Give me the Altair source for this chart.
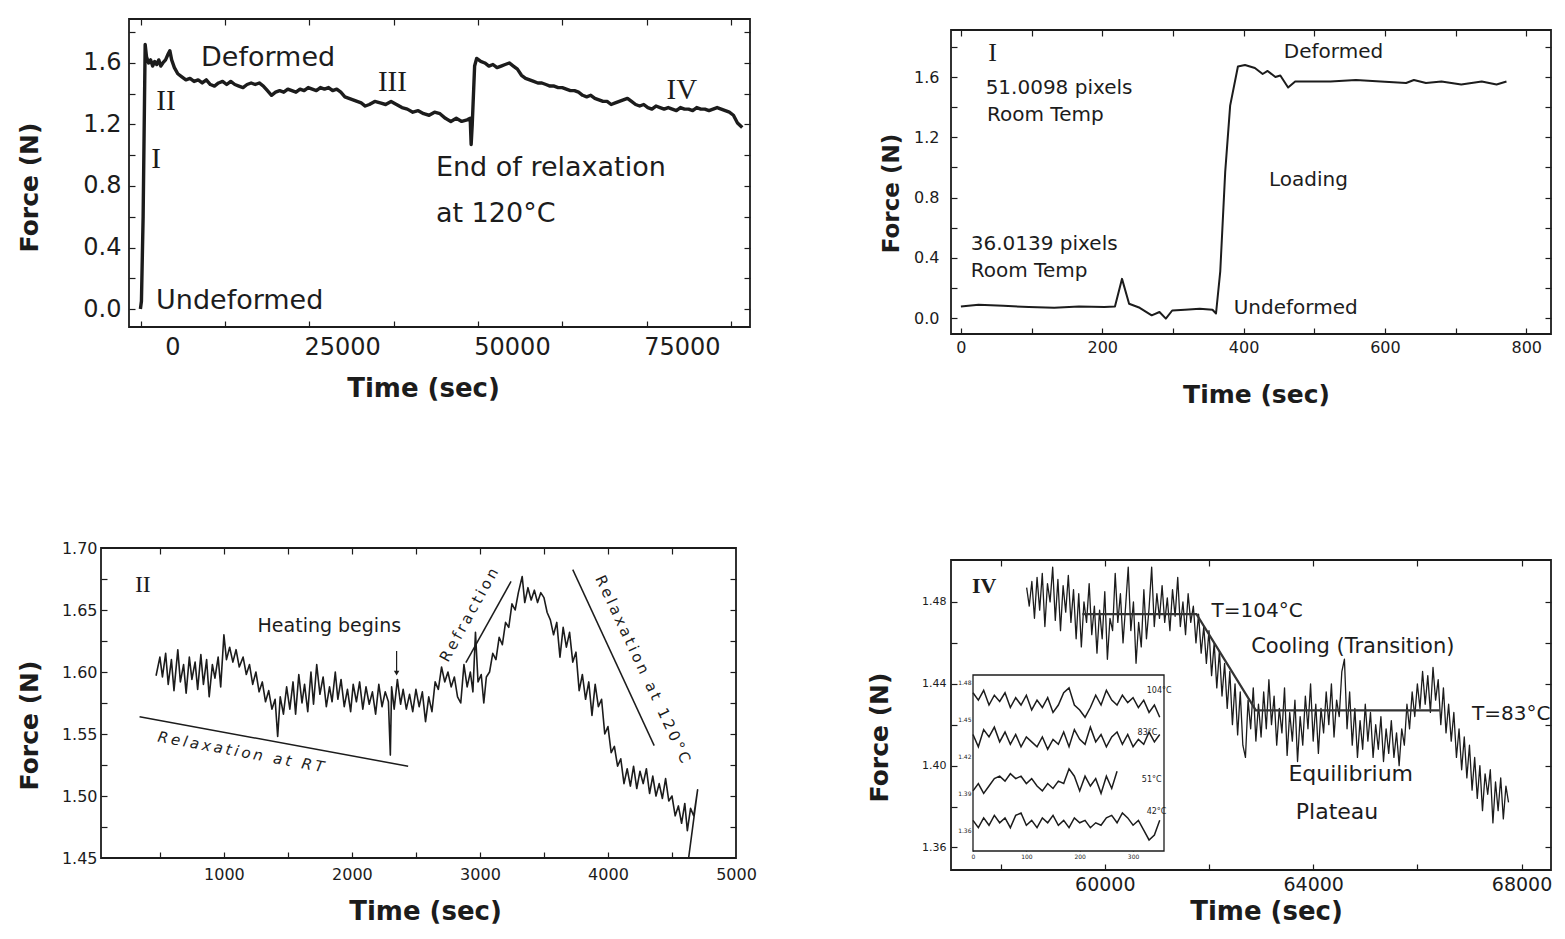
import altair as alt
import pandas as pd

FONT = "DejaVu Sans"
SERIF = "Liberation Serif"
INK = "#1c1c1c"

# ================= Panel 1 : whole experiment =================
p1_time = [
    -4700, -4550, -4300, -4000, -3800, -3500, -3200, -2900, -2600, -2300,
    -2000, -1700, -1400, -1000, -600, -370, -100, 300, 800, 1400,
    2000, 2600, 3200, 3800, 4400, 5000, 5600, 6200, 6800, 7400,
    8000, 8600, 9200, 9800, 10400, 11000, 11600, 12200, 12800, 13400,
    14000, 14600, 15200, 15800, 16400, 17000, 17600, 18200, 18800, 19400,
    20000, 20600, 21200, 21800, 22400, 23000, 23600, 24200, 24800, 25400,
    26000, 26600, 27200, 27800, 28400, 29000, 29800, 30600, 31400, 32200,
    33000, 33800, 34600, 35400, 36200, 37000, 37800, 38600, 39400, 40200,
    41000, 41800, 42600, 43400, 43850, 43990, 44150, 44500, 44800, 45400,
    46000, 46600, 47200, 47800, 48400, 49000, 49600, 50200, 50800, 51400,
    52000, 52600, 53200, 53800, 54400, 55000, 55600, 56200, 56800, 57400,
    58000, 58600, 59200, 59800, 60400, 61000, 61600, 62200, 62800, 63400,
    64000, 64600, 65200, 65800, 66400, 67000, 67600, 68200, 68800, 69400,
    70000, 70600, 71200, 71800, 72400, 73000, 73600, 74200, 74800, 75400,
    76000, 76600, 77200, 77800, 78400, 79000, 79600, 80200, 80800, 81400,
    82000, 82600, 83200, 83900]
p1_force = [
    0.00, 0.05, 0.60, 1.72, 1.64, 1.60, 1.62, 1.58, 1.61, 1.59,
    1.62, 1.58, 1.60, 1.62, 1.66, 1.68, 1.62, 1.57, 1.53, 1.51,
    1.49, 1.50, 1.48, 1.49, 1.47, 1.49, 1.46, 1.45, 1.47, 1.48,
    1.46, 1.48, 1.46, 1.45, 1.44, 1.46, 1.47, 1.46, 1.47, 1.45,
    1.42, 1.39, 1.41, 1.42, 1.41, 1.43, 1.42, 1.41, 1.43, 1.42,
    1.44, 1.43, 1.42, 1.44, 1.43, 1.44, 1.42, 1.43, 1.41, 1.38,
    1.37, 1.36, 1.35, 1.34, 1.32, 1.33, 1.35, 1.34, 1.33, 1.35,
    1.33, 1.31, 1.30, 1.28, 1.29, 1.27, 1.26, 1.28, 1.27, 1.24,
    1.22, 1.24, 1.22, 1.23, 1.24, 1.07, 1.20, 1.58, 1.63, 1.61,
    1.60, 1.58, 1.59, 1.57, 1.58, 1.59, 1.60, 1.58, 1.56, 1.52,
    1.50, 1.49, 1.48, 1.47, 1.47, 1.46, 1.45, 1.45, 1.44, 1.44,
    1.43, 1.42, 1.42, 1.41, 1.39, 1.38, 1.39, 1.37, 1.36, 1.35,
    1.35, 1.33, 1.34, 1.35, 1.36, 1.37, 1.35, 1.33, 1.32, 1.33,
    1.31, 1.30, 1.32, 1.31, 1.30, 1.31, 1.30, 1.29, 1.31, 1.30,
    1.30, 1.29, 1.31, 1.30, 1.30, 1.29, 1.30, 1.31, 1.30, 1.29,
    1.28, 1.26, 1.21, 1.18]
p1_xdomain = [-6380, 85040]
p1_ydomain = [-0.117, 1.886]
p1_xlabels = [0, 25000, 50000, 75000]
p1_ylabels = [0.0, 0.4, 0.8, 1.2, 1.6]
p1_xticks = [-4650, 7760, 20170, 32580, 44990, 57400, 69810, 82220]
p1_yticks = [0.0, 0.2, 0.4, 0.6, 0.8, 1.0, 1.2, 1.4, 1.6, 1.8]
p1_note_text = ["Deformed", "Undeformed", "End of relaxation", "at 120°C"]
p1_note_x = [4225, -2400, 38800, 38800]
p1_note_y = [1.632, 0.052, 0.917, 0.618]
p1_roman_text = ["I", "II", "III", "IV"]
p1_roman_x = [-2400, -930, 32400, 75000]
p1_roman_y = [0.976, 1.353, 1.477, 1.425]

# ================= Panel 2 : loading (I) =================
p2_time = [0, 25, 60, 96, 132, 167, 203, 218, 228, 238,
           253, 270, 281, 290, 299, 317, 338, 356, 361, 367,
           374, 381, 392, 402, 416, 427, 434, 445, 452, 463,
           473, 523, 559, 594, 630, 641, 658, 680, 708, 737,
           758, 772]
p2_force = [0.077, 0.088, 0.081, 0.073, 0.068, 0.077, 0.073, 0.077, 0.26, 0.095,
            0.068, 0.018, 0.04, -0.004, 0.05, 0.055, 0.062, 0.055, 0.03, 0.31,
            0.97, 1.41, 1.67, 1.68, 1.66, 1.62, 1.64, 1.60, 1.61, 1.53,
            1.57, 1.57, 1.58, 1.57, 1.56, 1.58, 1.56, 1.57, 1.55, 1.57,
            1.55, 1.57]
p2_xdomain = [-14, 835]
p2_ydomain = [-0.106, 1.912]
p2_xlabels = [0, 200, 400, 600, 800]
p2_ylabels = [0.0, 0.4, 0.8, 1.2, 1.6]
p2_xticks = [0, 100, 200, 300, 400, 500, 600, 700, 800]
p2_yticks = [0.0, 0.2, 0.4, 0.6, 0.8, 1.0, 1.2, 1.4, 1.6, 1.8]
p2_note_text = ["51.0098 pixels", "Room Temp", "36.0139 pixels", "Room Temp",
                "Deformed", "Loading", "Undeformed"]
p2_note_x = [35, 37, 14, 14, 457, 436, 386]
p2_note_y = [1.527, 1.348, 0.491, 0.312, 1.766, 0.916, 0.066]
p2_roman_text = ["I"]
p2_roman_x = [45]
p2_roman_y = [1.76]

# ================= Panel 3 : relaxation (II) =================
p3_time = [
    470, 500, 520, 545, 565, 590, 610, 640, 660, 685,
    705, 730, 750, 775, 795, 820, 840, 865, 885, 910,
    930, 955, 975, 1000, 1020, 1045, 1070, 1095, 1120, 1150,
    1175, 1200, 1225, 1250, 1275, 1300, 1325, 1350, 1375, 1400,
    1420, 1440, 1465, 1490, 1515, 1540, 1560, 1585, 1610, 1630,
    1655, 1680, 1700, 1725, 1750, 1775, 1800, 1825, 1845, 1870,
    1890, 1915, 1940, 1965, 1990, 2010, 2035, 2060, 2085, 2110,
    2135, 2160, 2185, 2210, 2235, 2260, 2285, 2300, 2310, 2330,
    2355, 2380, 2400, 2425, 2450, 2475, 2500, 2525, 2550, 2575,
    2600, 2625, 2650, 2675, 2700, 2725, 2750, 2775, 2800, 2825,
    2850, 2875, 2900, 2925, 2945, 2965, 2985, 3010, 3030, 3050,
    3075, 3100, 3125, 3150, 3175, 3200, 3225, 3250, 3275, 3300,
    3330, 3350, 3375, 3400, 3425, 3450, 3475, 3500, 3525, 3550,
    3575, 3600, 3625, 3650, 3675, 3700, 3725, 3750, 3775, 3800,
    3825, 3850, 3875, 3900, 3925, 3950, 3975, 4000, 4025, 4050,
    4075, 4100, 4125, 4150, 4175, 4200, 4225, 4250, 4275, 4300,
    4325, 4350, 4375, 4400, 4425, 4450, 4475, 4500, 4525, 4550,
    4575, 4600, 4620, 4645, 4670, 4700, 4630]
p3_force = [
    1.597, 1.612, 1.596, 1.615, 1.590, 1.610, 1.585, 1.618, 1.592, 1.606,
    1.583, 1.612, 1.594, 1.608, 1.586, 1.614, 1.590, 1.610, 1.580, 1.606,
    1.595, 1.612, 1.588, 1.630, 1.610, 1.620, 1.608, 1.618, 1.604, 1.612,
    1.598, 1.606, 1.590, 1.600, 1.584, 1.592, 1.576, 1.585, 1.570, 1.578,
    1.548, 1.580, 1.566, 1.588, 1.570, 1.592, 1.566, 1.598, 1.575, 1.590,
    1.568, 1.600, 1.574, 1.606, 1.582, 1.596, 1.572, 1.588, 1.576, 1.600,
    1.578, 1.594, 1.572, 1.586, 1.568, 1.590, 1.576, 1.592, 1.570, 1.588,
    1.574, 1.584, 1.566, 1.590, 1.572, 1.584, 1.576, 1.533, 1.588, 1.570,
    1.594, 1.574, 1.586, 1.570, 1.582, 1.568, 1.586, 1.572, 1.584, 1.560,
    1.580, 1.568, 1.592, 1.586, 1.604, 1.592, 1.600, 1.588, 1.596, 1.580,
    1.575, 1.606, 1.588, 1.600, 1.584, 1.632, 1.592, 1.598, 1.575, 1.596,
    1.600, 1.615, 1.610, 1.628, 1.622, 1.640, 1.636, 1.655, 1.650, 1.664,
    1.677, 1.656, 1.668, 1.658, 1.666, 1.656, 1.664, 1.660, 1.648, 1.642,
    1.630, 1.640, 1.612, 1.636, 1.620, 1.632, 1.608, 1.616, 1.585, 1.598,
    1.578, 1.592, 1.565, 1.590, 1.572, 1.578, 1.550, 1.556, 1.535, 1.540,
    1.524, 1.530, 1.510, 1.522, 1.508, 1.524, 1.506, 1.520, 1.510, 1.522,
    1.502, 1.516, 1.500, 1.510, 1.498, 1.514, 1.496, 1.500, 1.484, 1.492,
    1.478, 1.494, 1.472, 1.490, 1.484, 1.505, 1.450]
p3_xdomain = [40, 5000]
p3_ydomain = [1.45, 1.70]
p3_xlabels = [1000, 2000, 3000, 4000, 5000]
p3_ylabels = [1.45, 1.50, 1.55, 1.60, 1.65, 1.70]
p3_xticks = [500, 1000, 1500, 2000, 2500, 3000, 3500, 4000, 4500]
p3_yticks = [1.475, 1.500, 1.525, 1.550, 1.575, 1.600, 1.625, 1.650, 1.675]
p3_guide_x = [341, 2890, 3725]
p3_guide_y = [1.564, 1.6076, 1.6826]
p3_guide_x2 = [2439, 3243, 4361]
p3_guide_y2 = [1.524, 1.673, 1.5406]
p3_slant_text = ["Relaxation at RT", "Refraction", "Relaxation at 120°C"]
p3_slant_x = [1133, 2914, 4273]
p3_slant_y = [1.5355, 1.646, 1.6024]
p3_note_text = ["Heating begins"]
p3_note_x = [1263]
p3_note_y = [1.637]
p3_arrow_x = [2349]
p3_arrow_top = [1.617]
p3_arrow_tip = [1.599]
p3_roman_text = ["II"]
p3_roman_x = [367]
p3_roman_y = [1.670]

# ================= Panel 4 : cooling (IV) =================
p4_time = [
    58500, 58550, 58600, 58650, 58700, 58750, 58800, 58850, 58900, 58950,
    59000, 59050, 59100, 59150, 59200, 59250, 59300, 59350, 59400, 59450,
    59500, 59550, 59600, 59650, 59700, 59750, 59800, 59850, 59900, 59950,
    60000, 60050, 60100, 60150, 60200, 60250, 60300, 60350, 60400, 60450,
    60500, 60550, 60600, 60650, 60700, 60750, 60800, 60850, 60900, 60950,
    61000, 61050, 61100, 61150, 61200, 61250, 61300, 61350, 61400, 61450,
    61500, 61550, 61600, 61650, 61700, 61750, 61800, 61850, 61900, 61950,
    62000, 62050, 62100, 62150, 62200, 62250, 62300, 62350, 62400, 62450,
    62500, 62550, 62600, 62650, 62700, 62750, 62800, 62850, 62900, 62950,
    63000, 63050, 63100, 63150, 63200, 63250, 63300, 63350, 63400, 63450,
    63500, 63550, 63600, 63650, 63700, 63750, 63800, 63850, 63900, 63950,
    64000, 64050, 64100, 64150, 64200, 64250, 64300, 64350, 64400, 64450,
    64500, 64550, 64600, 64650, 64700, 64750, 64800, 64850, 64900, 64950,
    65000, 65050, 65100, 65150, 65200, 65250, 65300, 65350, 65400, 65450,
    65500, 65550, 65600, 65650, 65700, 65750, 65800, 65850, 65900, 65950,
    66000, 66050, 66100, 66150, 66200, 66250, 66300, 66350, 66400, 66450,
    66500, 66550, 66600, 66650, 66700, 66750, 66800, 66850, 66900, 66950,
    67000, 67050, 67100, 67150, 67200, 67250, 67300, 67350, 67400, 67450,
    67500, 67550, 67600, 67650, 67700, 67750]
p4_force = [
    1.487, 1.478, 1.490, 1.472, 1.492, 1.476, 1.494, 1.468, 1.489, 1.480,
    1.497, 1.471, 1.491, 1.466, 1.488, 1.475, 1.493, 1.470, 1.486, 1.462,
    1.484, 1.458, 1.480, 1.470, 1.489, 1.464, 1.478, 1.455, 1.476, 1.462,
    1.485, 1.452, 1.472, 1.466, 1.494, 1.470, 1.484, 1.460, 1.478, 1.497,
    1.466, 1.480, 1.450, 1.470, 1.458, 1.486, 1.462, 1.477, 1.497, 1.468,
    1.484, 1.472, 1.488, 1.470, 1.482, 1.466, 1.486, 1.473, 1.492, 1.468,
    1.480, 1.464, 1.484, 1.470, 1.478, 1.460, 1.474, 1.455, 1.468, 1.450,
    1.466, 1.444, 1.460, 1.438, 1.456, 1.434, 1.450, 1.428, 1.446, 1.420,
    1.440, 1.415, 1.436, 1.410, 1.404, 1.432, 1.418, 1.438, 1.412, 1.430,
    1.414, 1.436, 1.418, 1.442, 1.420, 1.434, 1.410, 1.428, 1.416, 1.438,
    1.405, 1.426, 1.412, 1.432, 1.402, 1.424, 1.410, 1.434, 1.418, 1.440,
    1.412, 1.430, 1.406, 1.428, 1.416, 1.436, 1.420, 1.440, 1.414, 1.432,
    1.424, 1.446, 1.452, 1.418, 1.436, 1.410, 1.428, 1.404, 1.422, 1.408,
    1.430, 1.412, 1.426, 1.404, 1.420, 1.408, 1.424, 1.402, 1.418, 1.406,
    1.422, 1.404, 1.416, 1.400, 1.418, 1.410, 1.430, 1.418, 1.436, 1.424,
    1.440, 1.428, 1.446, 1.430, 1.444, 1.426, 1.448, 1.432, 1.442, 1.420,
    1.438, 1.416, 1.430, 1.412, 1.426, 1.404, 1.418, 1.398, 1.414, 1.394,
    1.410, 1.388, 1.404, 1.384, 1.400, 1.378, 1.396, 1.386, 1.398, 1.372,
    1.392, 1.378, 1.394, 1.374, 1.390, 1.382]
p4_fit_time = [59570, 61760, 62900, 66430]
p4_fit_force = [1.474, 1.474, 1.427, 1.427]
p4_xdomain = [57048, 68565]
p4_ydomain = [1.349, 1.5005]
p4_xlabels = [60000, 64000, 68000]
p4_ylabels = [1.36, 1.40, 1.44, 1.48]
p4_xticks = [58000, 60000, 62000, 64000, 66000, 68000]
p4_yticks = [1.36, 1.38, 1.40, 1.42, 1.44, 1.46, 1.48]
p4_note_text = ["T=104°C", "Cooling (Transition)", "T=83°C", "Equilibrium", "Plateau"]
p4_note_x = [62048, 62810, 67048, 63524, 63667]
p4_note_y = [1.4756, 1.4578, 1.425, 1.3958, 1.3772]
p4_note_size = [20, 21, 20, 22, 22]
p4_roman_text = ["IV"]
p4_roman_x = [57684]
p4_roman_y = [1.488]

# inset of panel 4 : four isothermal traces
inset_time = [0, 10, 20, 30, 40, 50, 60, 70, 80, 90, 100, 110, 120, 130, 140, 150, 160, 170,
              180, 190, 200, 210, 220, 230, 240, 250, 260, 270, 280, 290, 300, 310, 320, 330, 340, 350]
inset_104 = [1.472, 1.466, 1.474, 1.462, 1.470, 1.465, 1.472, 1.460, 1.468, 1.462, 1.470, 1.458,
             1.466, 1.460, 1.468, 1.456, 1.462, 1.472, 1.476, 1.462, 1.458, 1.452, 1.460, 1.470,
             1.462, 1.474, 1.466, 1.462, 1.470, 1.464, 1.468, 1.460, 1.466, 1.456, 1.462, 1.452]
inset_83 = [1.438, 1.428, 1.442, 1.436, 1.444, 1.432, 1.440, 1.430, 1.438, 1.428, 1.436, 1.432,
            1.428, 1.436, 1.426, 1.434, 1.430, 1.440, 1.428, 1.442, 1.434, 1.430, 1.444, 1.432,
            1.438, 1.428, 1.436, 1.440, 1.430, 1.438, 1.428, 1.434, 1.430, 1.440, 1.432, 1.438]
inset_42 = [1.368, 1.362, 1.370, 1.364, 1.372, 1.366, 1.370, 1.362, 1.372, 1.374, 1.364, 1.368,
            1.362, 1.370, 1.366, 1.372, 1.364, 1.368, 1.362, 1.370, 1.366, 1.368, 1.362, 1.366,
            1.364, 1.370, 1.372, 1.366, 1.374, 1.370, 1.364, 1.368, 1.360, 1.352, 1.356, 1.368]
inset_time_51 = [0, 10, 20, 30, 40, 50, 60, 70, 80, 90, 100, 110, 120, 130, 140, 150, 160, 170,
                 180, 190, 200, 210, 220, 230, 240, 250, 260, 270]
inset_51 = [1.392, 1.398, 1.390, 1.396, 1.402, 1.404, 1.400, 1.406, 1.402, 1.404, 1.398, 1.402,
            1.396, 1.392, 1.398, 1.394, 1.400, 1.398, 1.410, 1.404, 1.392, 1.404, 1.396, 1.402,
            1.390, 1.404, 1.394, 1.408]
inset_xdomain = [0, 358]
inset_ydomain = [1.343, 1.4865]
inset_xlabels = [0, 100, 200, 300]
inset_ylabels = [1.36, 1.39, 1.42, 1.45, 1.48]
inset_label_text = ["104°C", "83°C", "51°C", "42°C"]
inset_label_x = [349, 327, 335, 344]
inset_label_y = [1.4735, 1.4392, 1.4008, 1.3747]


# ================= helpers =================
def scales(xdom, ydom):
    return (alt.Scale(domain=xdom, zero=False, nice=False),
            alt.Scale(domain=ydom, zero=False, nice=False))


def label_axis(orient, vals, fmt, size, pad, title, tsize, tx, ty):
    return alt.Axis(orient=orient, values=vals, format=fmt, labelFont=FONT,
                    labelFontSize=size, labelColor=INK, labelPadding=pad,
                    labelFlush=False, labelOverlap=False, ticks=False, tickSize=0,
                    domain=False, grid=False, title=title, titleFont=FONT,
                    titleFontSize=tsize, titleFontWeight="bold", titleColor=INK,
                    titleX=tx, titleY=ty, titleAngle=270 if orient == "left" else 0,
                    titleAlign="center", titleBaseline="middle")


def tick_axis(orient, offset, vals, size=6):
    return alt.Axis(orient=orient, offset=offset, values=vals, labels=False, ticks=True,
                    tickSize=size, tickWidth=1.2, tickColor=INK, domain=False, grid=False,
                    title=None)


def frame_ticks(df, xs, ys, xticks, yticks, W, H, size=6):
    base = alt.Chart(df).mark_line(opacity=0)
    a = base.encode(x=alt.X("t:Q", scale=xs, axis=tick_axis("top", -H, xticks, size)),
                    y=alt.Y("f:Q", scale=ys, axis=tick_axis("right", -W, yticks, size)))
    b = base.encode(x=alt.X("t:Q", scale=xs, axis=tick_axis("bottom", -H, xticks, size)),
                    y=alt.Y("f:Q", scale=ys, axis=tick_axis("left", -W, yticks, size)))
    return [a, b]


def text_layer(texts, xv, yv, xs, ys, **mk):
    df = pd.DataFrame({"x": xv, "y": yv, "t": texts})
    return alt.Chart(df).mark_text(color=INK, **mk).encode(
        x=alt.X("x:Q", scale=xs, axis=None),
        y=alt.Y("y:Q", scale=ys, axis=None),
        text="t:N")


def series(xv, yv):
    return pd.DataFrame({"t": xv, "f": yv, "i": list(range(len(xv)))})


def spacer():
    return alt.Chart(pd.DataFrame({"s": [0]})).mark_rule(opacity=0, strokeWidth=0).encode(
        x=alt.value(0), y=alt.value(0), y2=alt.value(1)
    ).properties(width=1, height=1, view=alt.ViewBackground(strokeOpacity=0, strokeWidth=0))


# ================= Panel 1 =================
W1, H1 = 621, 308
xs1, ys1 = scales(p1_xdomain, p1_ydomain)
d1 = series(p1_time, p1_force)
line1 = alt.Chart(d1).mark_line(color=INK, strokeWidth=3.4, strokeJoin="round").encode(
    x=alt.X("t:Q", scale=xs1, axis=label_axis("bottom", p1_xlabels, "d", 24, 8, "Time (sec)", 26, 294, 61)),
    y=alt.Y("f:Q", scale=ys1, axis=label_axis("left", p1_ylabels, ".1f", 24, 8, "Force (N)", 25, -100, 168)),
    order="i:Q")
p1 = alt.layer(
    line1, *frame_ticks(d1, xs1, ys1, p1_xticks, p1_yticks, W1, H1),
    text_layer(p1_note_text, p1_note_x, p1_note_y, xs1, ys1, align="left", baseline="middle",
               font=FONT, fontSize=27),
    text_layer(p1_roman_text, p1_roman_x, p1_roman_y, xs1, ys1, align="center", baseline="middle",
               font=SERIF, fontSize=29),
).resolve_axis(x="independent", y="independent").properties(width=W1, height=H1)

# ================= Panel 2 =================
W2, H2 = 600, 304
xs2, ys2 = scales(p2_xdomain, p2_ydomain)
d2 = series(p2_time, p2_force)
line2 = alt.Chart(d2).mark_line(color=INK, strokeWidth=2, strokeJoin="round").encode(
    x=alt.X("t:Q", scale=xs2, axis=label_axis("bottom", p2_xlabels, "d", 16, 5, "Time (sec)", 25, 305, 60)),
    y=alt.Y("f:Q", scale=ys2, axis=label_axis("left", p2_ylabels, ".1f", 16, 12, "Force (N)", 23, -60, 163)),
    order="i:Q")
p2 = alt.layer(
    line2, *frame_ticks(d2, xs2, ys2, p2_xticks, p2_yticks, W2, H2),
    text_layer(p2_note_text, p2_note_x, p2_note_y, xs2, ys2, align="left", baseline="middle",
               font=FONT, fontSize=20),
    text_layer(p2_roman_text, p2_roman_x, p2_roman_y, xs2, ys2, align="center", baseline="middle",
               font=SERIF, fontSize=26),
).resolve_axis(x="independent", y="independent").properties(width=W2, height=H2)

# ================= Panel 3 =================
W3, H3 = 635, 310
xs3, ys3 = scales(p3_xdomain, p3_ydomain)
d3 = series(p3_time, p3_force)
line3 = alt.Chart(d3).mark_line(color=INK, strokeWidth=1.6, strokeJoin="round").encode(
    x=alt.X("t:Q", scale=xs3, axis=label_axis("bottom", p3_xlabels, "d", 16, 8, "Time (sec)", 26, 324, 53)),
    y=alt.Y("f:Q", scale=ys3, axis=label_axis("left", p3_ylabels, ".2f", 16, 4, "Force (N)", 25, -72, 177)),
    order="i:Q")
guides3 = alt.Chart(pd.DataFrame({"x": p3_guide_x, "y": p3_guide_y, "x2": p3_guide_x2, "y2": p3_guide_y2})
                    ).mark_rule(color=INK, strokeWidth=1.5).encode(
    x=alt.X("x:Q", scale=xs3, axis=None), y=alt.Y("y:Q", scale=ys3, axis=None), x2="x2:Q", y2="y2:Q")
arrow3 = alt.Chart(pd.DataFrame({"x": p3_arrow_x, "y": p3_arrow_top, "y2": p3_arrow_tip})).mark_rule(
    color=INK, strokeWidth=1.2).encode(
    x=alt.X("x:Q", scale=xs3, axis=None), y=alt.Y("y:Q", scale=ys3, axis=None), y2="y2:Q")
tip3 = alt.Chart(pd.DataFrame({"x": p3_arrow_x, "y": p3_arrow_tip})).mark_point(
    shape="triangle-down", filled=True, size=30, color=INK, opacity=1).encode(
    x=alt.X("x:Q", scale=xs3, axis=None), y=alt.Y("y:Q", scale=ys3, axis=None))
slant_styles = [dict(angle=10.5, fontStyle="italic"), dict(angle=299), dict(angle=65)]
slant_layers = []
for txt, sx, sy, st in zip(p3_slant_text, p3_slant_x, p3_slant_y, slant_styles):
    spaced = "\u2009".join(txt)
    slant_layers.append(text_layer([spaced], [sx], [sy], xs3, ys3, align="center",
                                   baseline="middle", font=FONT, fontSize=15, **st))
p3 = alt.layer(
    line3, *frame_ticks(d3, xs3, ys3, p3_xticks, p3_yticks, W3, H3), guides3, arrow3, tip3,
    *slant_layers,
    text_layer(p3_note_text, p3_note_x, p3_note_y, xs3, ys3, align="left", baseline="middle",
               font=FONT, fontSize=19),
    text_layer(p3_roman_text, p3_roman_x, p3_roman_y, xs3, ys3, align="center", baseline="middle",
               font=SERIF, fontSize=24),
).resolve_axis(x="independent", y="independent").properties(width=W3, height=H3)

# ================= Panel 4 =================
W4, H4 = 600, 310
xs4, ys4 = scales(p4_xdomain, p4_ydomain)
d4 = series(p4_time, p4_force)
line4 = alt.Chart(d4).mark_line(color=INK, strokeWidth=1.3, strokeJoin="round").encode(
    x=alt.X("t:Q", scale=xs4, axis=label_axis("bottom", p4_xlabels, "d", 19, 5, "Time (sec)", 26, 315, 41)),
    y=alt.Y("f:Q", scale=ys4, axis=label_axis("left", p4_ylabels, ".2f", 11, 5, "Force (N)", 25, -72, 177)),
    order="i:Q")
fit4 = alt.Chart(series(p4_fit_time, p4_fit_force)).mark_line(color="#333333", strokeWidth=2.2).encode(
    x=alt.X("t:Q", scale=xs4, axis=None), y=alt.Y("f:Q", scale=ys4, axis=None), order="i:Q")
note_layers4 = [text_layer([t], [x], [y], xs4, ys4, align="left", baseline="middle", font=FONT, fontSize=s)
                for t, x, y, s in zip(p4_note_text, p4_note_x, p4_note_y, p4_note_size)]
p4_main = alt.layer(
    line4, fit4, *frame_ticks(d4, xs4, ys4, p4_xticks, p4_yticks, W4, H4), *note_layers4,
    text_layer(p4_roman_text, p4_roman_x, p4_roman_y, xs4, ys4, align="center", baseline="middle",
               font=SERIF, fontSize=22, fontWeight="bold"),
).resolve_axis(x="independent", y="independent")

# inset
IX0, IX1, IYB, IYT = 22, 213, 291, 115
xsi = alt.Scale(domain=inset_xdomain, range=[IX0, IX1], zero=False, nice=False)
ysi = alt.Scale(domain=inset_ydomain, range=[IYB, IYT], zero=False, nice=False)
inset_df = pd.concat([
    pd.DataFrame({"t": inset_time, "f": inset_104, "trace": "104"}),
    pd.DataFrame({"t": inset_time, "f": inset_83, "trace": "83"}),
    pd.DataFrame({"t": inset_time_51, "f": inset_51, "trace": "51"}),
    pd.DataFrame({"t": inset_time, "f": inset_42, "trace": "42"}),
], ignore_index=True)
inset_df["i"] = list(range(len(inset_df)))
frame_df = pd.DataFrame({"x": [inset_xdomain[0]], "x2": [inset_xdomain[1]],
                         "y": [inset_ydomain[0]], "y2": [inset_ydomain[1]]})
inset_frame = alt.Chart(frame_df).mark_rect(fill="white", stroke=INK, strokeWidth=1.3).encode(
    x=alt.X("x:Q", scale=xsi, axis=None), x2="x2:Q",
    y=alt.Y("y:Q", scale=ysi, axis=None), y2="y2:Q")
inset_axis_common = dict(labelFont=FONT, labelFontSize=6, labelColor=INK, labelPadding=2,
                         labelFlush=False, labelOverlap=False, ticks=False, tickSize=0,
                         domain=False, grid=False, title=None)
inset_lines = alt.Chart(inset_df).mark_line(color=INK, strokeWidth=1.5).encode(
    x=alt.X("t:Q", scale=xsi, axis=alt.Axis(orient="bottom", offset=IYB - H4, values=inset_xlabels,
                                            format="d", **inset_axis_common)),
    y=alt.Y("f:Q", scale=ysi, axis=alt.Axis(orient="left", offset=-IX0, values=inset_ylabels,
                                            format=".2f", **inset_axis_common)),
    detail="trace:N", order="i:Q")
inset_ticks = alt.Chart(inset_df).mark_line(opacity=0).encode(
    x=alt.X("t:Q", scale=xsi, axis=tick_axis("top", -IYB, inset_xlabels, 3)),
    y=alt.Y("f:Q", scale=ysi, axis=tick_axis("right", IX0 - W4, inset_ylabels, 3)),
    detail="trace:N")
inset_labels = text_layer(inset_label_text, inset_label_x, inset_label_y, xsi, ysi,
                          align="center", baseline="middle", font=FONT, fontSize=8)
p4_inset = alt.layer(inset_frame, inset_lines, inset_ticks, inset_labels).resolve_axis(
    x="independent", y="independent")

p4 = alt.layer(p4_main, p4_inset).resolve_scale(x="independent", y="independent").resolve_axis(
    x="independent", y="independent").properties(width=W4, height=H4)

# ================= layout =================
right1 = alt.vconcat(spacer(), p2, spacing=8)
inner1 = alt.hconcat(p1, right1, spacing=127)
row1 = alt.hconcat(spacer(), inner1, spacing=0)
right2 = alt.vconcat(spacer(), p4, spacing=9)
inner2 = alt.hconcat(p3, right2, spacing=108)
row2 = alt.hconcat(spacer(), inner2, spacing=0)
chart = alt.vconcat(row1, row2, spacing=131).properties(
    padding={"left": 7, "top": 9, "right": 0, "bottom": 0}
).configure_view(stroke=INK, strokeWidth=1.8)

chart.save("out.html", embed_options={"renderer": "svg", "actions": False})
